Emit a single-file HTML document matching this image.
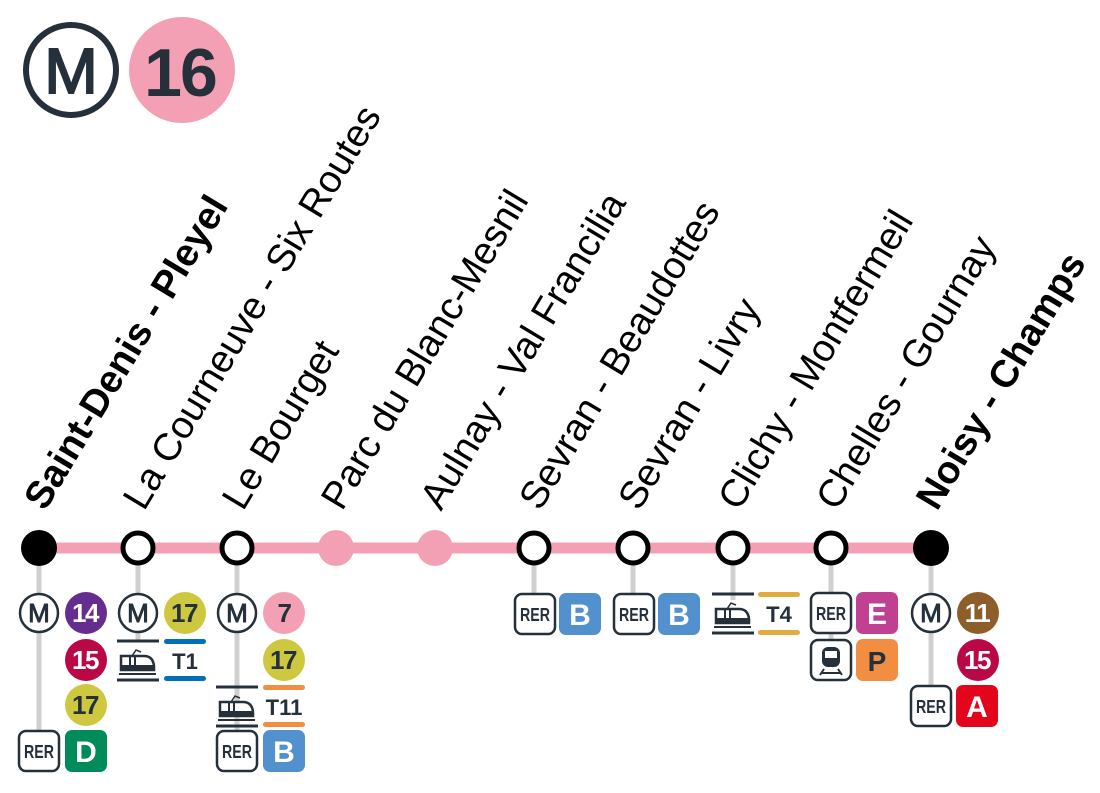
<!DOCTYPE html>
<html><head><meta charset="utf-8"><style>
html,body{margin:0;padding:0;background:#fff;}
svg{display:block}
.lbl{font-family:"Liberation Sans",Arial,sans-serif;font-size:38.5px;fill:#000}
.b{font-weight:bold}
.n{font-family:"Liberation Sans",Arial,sans-serif;font-weight:bold;font-size:26px;text-anchor:middle;letter-spacing:-1.5px}
.r{font-family:"Liberation Sans",Arial,sans-serif;font-weight:bold;font-size:18px;text-anchor:middle;fill:#25303b}
</style></head><body>
<svg width="1100" height="793" viewBox="0 0 1100 793" xmlns="http://www.w3.org/2000/svg">
<defs>
<g id="m"><circle r="19" fill="#fff" stroke="#25303b" stroke-width="2.5"/><text y="9" class="n" fill="#25303b" stroke="#25303b" stroke-width="0.9" style="font-size:26px;letter-spacing:0;font-weight:normal">M</text></g>
<g id="rer"><rect x="-20" y="-20" width="40" height="40" rx="7" fill="#fff" stroke="#25303b" stroke-width="2.5"/><text x="-15" y="7" class="r" style="text-anchor:start" textLength="30" lengthAdjust="spacingAndGlyphs">RER</text></g>
<g id="tram"><line x1="-21" y1="-19" x2="21" y2="-19" stroke="#25303b" stroke-width="3"/><line x1="-21" y1="20" x2="21" y2="20" stroke="#25303b" stroke-width="3"/>
<path d="M-17,-4 L6,-4 Q15,-4 16,6 L16,10 L-17,10 Z" fill="#fff" stroke="#25303b" stroke-width="2.5"/>
<path d="M-17,5 L16,5 L16,10 L-17,10Z" fill="#25303b"/><line x1="-8" y1="-4" x2="-8" y2="5" stroke="#25303b" stroke-width="2"/><line x1="-3" y1="-4" x2="-3" y2="5" stroke="#25303b" stroke-width="2"/>
<path d="M-6,-4 L-2,-10 L3,-8" fill="none" stroke="#25303b" stroke-width="1.5"/>
<line x1="-19" y1="14" x2="18" y2="14" stroke="#25303b" stroke-width="2"/></g>
<g id="train"><rect x="-20" y="-20" width="40" height="40" rx="7" fill="#fff" stroke="#25303b" stroke-width="2.5"/>
<rect x="-9" y="-13" width="18" height="20" rx="6" fill="#25303b"/><rect x="-6" y="-9" width="12" height="7" fill="#fff"/>
<path d="M-7,9 L-11,15 M7,9 L11,15 M-9,13 L9,13" stroke="#25303b" stroke-width="2"/></g>
</defs>

<!-- header -->
<circle cx="71" cy="70" r="45" fill="#fff" stroke="#25303b" stroke-width="6"/>
<text x="71" y="93" text-anchor="middle" font-family="Liberation Sans, sans-serif" font-size="64" fill="#25303b" stroke="#25303b" stroke-width="2">M</text>
<circle cx="182" cy="70" r="53" fill="#f4a0b4"/>
<text x="180" y="96" text-anchor="middle" font-family="Liberation Sans, sans-serif" font-weight="bold" font-size="68" fill="#25303b" letter-spacing="-2">16</text>

<!-- labels -->
<g class="lbl">
<text class="lbl b" transform="translate(45,512) rotate(-59)">Saint-Denis - Pleyel</text>
<text class="lbl" transform="translate(144,512) rotate(-59)">La Courneuve - Six Routes</text>
<text class="lbl" transform="translate(243,512) rotate(-59)">Le Bourget</text>
<text class="lbl" transform="translate(342,512) rotate(-59)">Parc du Blanc-Mesnil</text>
<text class="lbl" transform="translate(441,512) rotate(-59)">Aulnay - Val Francilia</text>
<text class="lbl" transform="translate(540,512) rotate(-59)">Sevran - Beaudottes</text>
<text class="lbl" transform="translate(639,512) rotate(-59)">Sevran - Livry</text>
<text class="lbl" transform="translate(739,512) rotate(-59)">Clichy - Montfermeil</text>
<text class="lbl" transform="translate(837,512) rotate(-59)">Chelles - Gournay</text>
<text class="lbl b" transform="translate(937,512) rotate(-59)">Noisy - Champs</text>
</g>

<!-- connectors -->
<g stroke="#d0d0d0" stroke-width="5">
<line x1="39" y1="548" x2="39" y2="745"/>
<line x1="138" y1="548" x2="138" y2="640"/>
<line x1="237" y1="548" x2="237" y2="745"/>
<line x1="534" y1="548" x2="534" y2="600"/>
<line x1="633" y1="548" x2="633" y2="600"/>
<line x1="733" y1="548" x2="733" y2="600"/>
<line x1="831" y1="548" x2="831" y2="650"/>
<line x1="931" y1="548" x2="931" y2="700"/>
</g>

<!-- main line -->
<line x1="39" y1="548" x2="931" y2="548" stroke="#f4a0b4" stroke-width="11"/>
<circle cx="39" cy="548" r="18" fill="#000"/>
<circle cx="931" cy="548" r="18" fill="#000"/>
<g fill="#fff" stroke="#000" stroke-width="5">
<circle cx="138" cy="548" r="15"/><circle cx="237" cy="548" r="15"/>
<circle cx="534" cy="548" r="15"/><circle cx="633" cy="548" r="15"/>
<circle cx="733" cy="548" r="15"/><circle cx="831" cy="548" r="15"/>
</g>
<circle cx="336" cy="548" r="18" fill="#f4a0b4"/>
<circle cx="435" cy="548" r="18" fill="#f4a0b4"/>

<!-- Station 1 -->
<use href="#m" x="39" y="613"/>
<circle cx="86" cy="613" r="21" fill="#662d91"/><text x="85" y="622" class="n" fill="#fff">14</text>
<circle cx="86" cy="660" r="21" fill="#b90845"/><text x="85" y="669" class="n" fill="#fff">15</text>
<circle cx="86" cy="705" r="21" fill="#cdc83f"/><text x="85" y="714" class="n" fill="#25303b">17</text>
<use href="#rer" x="39" y="751"/>
<rect x="65" y="730" width="42" height="42" rx="7" fill="#008b5b"/><text x="86" y="762" class="n" fill="#fff" style="font-size:30px;letter-spacing:0">D</text>

<!-- Station 2 -->
<use href="#m" x="138" y="613"/>
<circle cx="185" cy="613" r="21" fill="#cdc83f"/><text x="184" y="622" class="n" fill="#25303b">17</text>
<use href="#tram" x="138" y="660"/>
<rect x="164" y="639" width="42" height="5" rx="2.5" fill="#0071b8"/><rect x="164" y="676" width="42" height="5" rx="2.5" fill="#0071b8"/>
<text x="185" y="669" class="n" fill="#25303b" style="font-size:22px;letter-spacing:0">T1</text>

<!-- Station 3 -->
<use href="#m" x="237" y="613"/>
<circle cx="284" cy="613" r="21" fill="#f4a0b4"/><text x="284" y="622" class="n" fill="#25303b">7</text>
<circle cx="284" cy="660" r="21" fill="#cdc83f"/><text x="283" y="669" class="n" fill="#25303b">17</text>
<use href="#tram" x="237" y="706"/>
<rect x="263" y="685" width="42" height="5" rx="2.5" fill="#f28e42"/><rect x="263" y="722" width="42" height="5" rx="2.5" fill="#f28e42"/>
<text x="284" y="715" class="n" fill="#25303b" style="font-size:22px;letter-spacing:0">T11</text>
<use href="#rer" x="237" y="751"/>
<rect x="263" y="730" width="42" height="42" rx="7" fill="#5291ce"/><text x="284" y="762" class="n" fill="#fff" style="font-size:30px;letter-spacing:0">B</text>

<!-- Station 6, 7 -->
<use href="#rer" x="535" y="614"/>
<rect x="559" y="593" width="42" height="42" rx="7" fill="#5291ce"/><text x="580" y="625" class="n" fill="#fff" style="font-size:30px;letter-spacing:0">B</text>
<use href="#rer" x="634" y="614"/>
<rect x="658" y="593" width="42" height="42" rx="7" fill="#5291ce"/><text x="679" y="625" class="n" fill="#fff" style="font-size:30px;letter-spacing:0">B</text>

<!-- Station 8 -->
<use href="#tram" x="733" y="613"/>
<rect x="758" y="592" width="42" height="5" rx="2.5" fill="#e2ab3d"/><rect x="758" y="630" width="42" height="5" rx="2.5" fill="#e2ab3d"/>
<text x="779" y="622" class="n" fill="#25303b" style="font-size:22px;letter-spacing:0">T4</text>

<!-- Station 9 -->
<use href="#rer" x="831" y="613"/>
<rect x="856" y="592" width="42" height="42" rx="7" fill="#c04191"/><text x="877" y="624" class="n" fill="#fff" style="font-size:30px;letter-spacing:0">E</text>
<use href="#train" x="831" y="660"/>
<rect x="856" y="639" width="42" height="42" rx="7" fill="#f28e42"/><text x="877" y="671" class="n" fill="#25303b" style="font-size:28px;letter-spacing:0">P</text>

<!-- Station 10 -->
<use href="#m" x="931" y="613"/>
<circle cx="978" cy="613" r="21" fill="#8d5e2a"/><text x="977" y="622" class="n" fill="#fff">11</text>
<circle cx="978" cy="660" r="21" fill="#b90845"/><text x="977" y="669" class="n" fill="#fff">15</text>
<use href="#rer" x="931" y="706"/>
<rect x="956" y="685" width="42" height="42" rx="7" fill="#e3051c"/><text x="977" y="717" class="n" fill="#fff" style="font-size:30px;letter-spacing:0">A</text>
</svg>
</body></html>
